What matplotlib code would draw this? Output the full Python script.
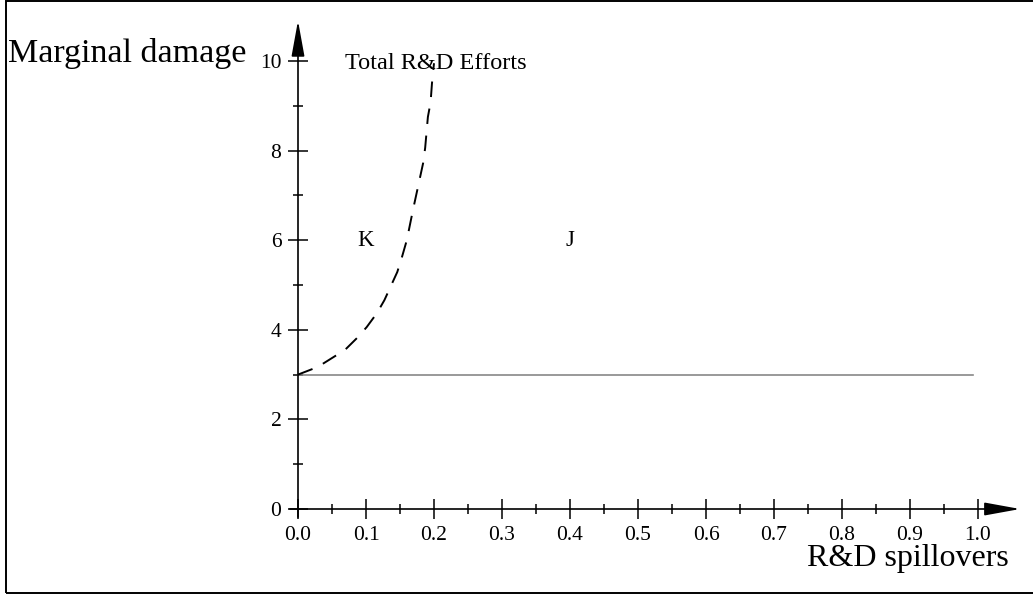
import matplotlib
matplotlib.use('Agg')
import matplotlib.pyplot as plt
from matplotlib.patches import Rectangle

plt.rcParams['font.family'] = ['Liberation Serif', 'DejaVu Serif']

# dashed curve: total R&D efforts boundary
curve_x = [0.0, 0.029, 0.05, 0.069, 0.087, 0.101, 0.116, 0.127, 0.146, 0.153,
           0.16, 0.169, 0.184, 0.187, 0.191, 0.195, 0.197, 0.2]
curve_y = [3.0, 3.17, 3.37, 3.55, 3.82, 4.06, 4.37, 4.66, 5.29, 5.63,
           6.0, 6.67, 7.72, 8.06, 8.75, 9.08, 9.5, 9.95]
# flat marginal damage line
flat_x = [0.0, 0.993]
flat_y = [3.0, 3.0]

region_labels = ['K', 'J']
region_x = [0.1, 0.4]
region_y = [6.0, 6.0]

xticks = [0.0, 0.1, 0.2, 0.3, 0.4, 0.5, 0.6, 0.7, 0.8, 0.9, 1.0]
xtick_labels = ['0.0', '0.1', '0.2', '0.3', '0.4', '0.5', '0.6', '0.7', '0.8', '0.9', '1.0']
yticks = [0, 2, 4, 6, 8, 10]
ytick_labels = ['0', '2', '4', '6', '8', '10']

W, H = 1033, 596
fig = plt.figure(figsize=(W / 100, H / 100), dpi=100)

# axes placed so that data (0,0) sits at pixel (298, 509)
x0, y0 = 298, 509
px_x, px_y = 680, 44.8
xmax, ymax = 1.1, 11.2
ax = fig.add_axes([x0 / W, (H - y0) / H, xmax * px_x / W, ymax * px_y / H])
ax.set_xlim(0, xmax)
ax.set_ylim(0, ymax)
for s in ax.spines.values():
    s.set_visible(False)

ax.plot(flat_x, flat_y, color='#888888', lw=1.2, clip_on=False)
ax.plot(curve_x, curve_y, color='black', lw=1.4, ls=(0, (8, 6)), clip_on=False)

for lab, xx, yy in zip(region_labels, region_x, region_y):
    ax.text(xx, yy, lab, ha='center', va='center', fontsize=16.5)

# axis arrows
arrow = dict(arrowstyle='-|>,head_length=1.1,head_width=0.2', color='black',
             lw=1.2, mutation_scale=20, shrinkA=0, shrinkB=0)
ax.annotate('', xy=(1.062, 0), xytext=(-0.012, 0), arrowprops=arrow,
            annotation_clip=False)
ax.annotate('', xy=(0, 10.9), xytext=(0, -0.18), arrowprops=arrow,
            annotation_clip=False)

ax.set_xticks(xticks, xtick_labels)
ax.set_yticks(yticks, ytick_labels)
ax.set_xticks([0.05 + 0.1 * i for i in range(10)], minor=True)
ax.set_yticks([1, 3, 5, 7, 9], minor=True)
ax.tick_params(which='major', direction='inout', length=14, width=1.1,
               labelsize=15.5)
ax.tick_params(which='minor', direction='inout', length=7, width=1.1)
ax.tick_params(axis='x', pad=5)
ax.tick_params(axis='y', pad=5)

fig.text(8 / W, 1 - 62 / H, 'Marginal damage', fontsize=24.5, va='baseline')
fig.text(345 / W, 1 - 69 / H, 'Total R&D Efforts', fontsize=17.5, va='baseline')
fig.text(807 / W, 1 - 566 / H, 'R&D spillovers', fontsize=23, va='baseline')

fig.patches.append(Rectangle((6 / W, 3 / H), 1.2, 1 - 3.5 / H, fill=False,
                             ec='black', lw=1.4, transform=fig.transFigure))

fig.savefig('out.png', dpi=100)
